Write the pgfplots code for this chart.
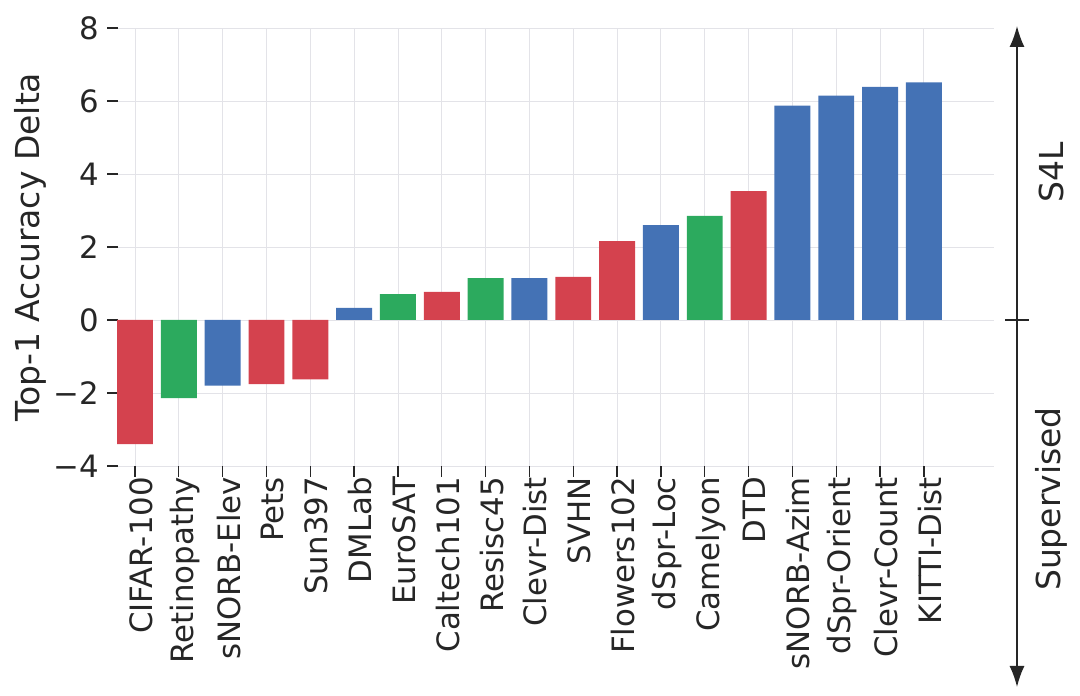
\documentclass[border=0pt]{standalone}
\usepackage{fontspec}
\setmainfont{DejaVu Sans}
\usepackage{pgfplots}
\pgfplotsset{compat=1.18}
\usetikzlibrary{arrows.meta}
\definecolor{cred}{HTML}{D4424E}
\definecolor{cgreen}{HTML}{2CAA5E}
\definecolor{cblue}{HTML}{4472B5}
\definecolor{cgrid}{HTML}{E3E3E8}
\definecolor{ctext}{HTML}{262626}
\begin{document}
\begin{tikzpicture}[x=1pt,y=1pt]
\useasboundingbox (0,0) rectangle (1080,696);
\begin{axis}[
  at={(118pt,230pt)}, anchor=south west,
  scale only axis, width=876pt, height=438pt,
  xmin=-0.388, xmax=19.6, ymin=-4, ymax=8,
  axis line style={draw=none},
  xtick={0,...,18},
  xticklabels={CIFAR-100,Retinopathy,sNORB-Elev,Pets,Sun397,DMLab,EuroSAT,Caltech101,Resisc45,Clevr-Dist,SVHN,Flowers102,dSpr-Loc,Camelyon,DTD,sNORB-Azim,dSpr-Orient,Clevr-Count,KITTI-Dist},
  ytick={-4,-2,0,2,4,6,8},
  yticklabels={−4,−2,0,2,4,6,8},
  xtick pos=bottom, ytick pos=left,
  tick align=outside, major tick length=11pt,
  tick style={ctext, line width=1.3pt},
  grid=major, grid style={cgrid, line width=0.9pt},
  xticklabel style={rotate=90, anchor=east, font=\fontsize{30.8}{33}\selectfont, color=ctext, inner sep=0pt, yshift=-6pt},
  yticklabel style={font=\fontsize{30.8}{33}\selectfont, color=ctext, inner sep=0pt, xshift=-8pt},
  ylabel={Top-1 Accuracy Delta},
  every axis y label/.style={at={(axis description cs:-0.1005,0.5)}, rotate=90, anchor=center, font=\fontsize{33}{36}\selectfont, color=ctext},
  clip=false,
]
\addplot[ybar, bar width=0.82, bar shift=0, fill=cred, draw=none] coordinates {
 (0,-3.40) (3,-1.76) (4,-1.63) (7,0.77) (10,1.18) (11,2.16) (14,3.53)};
\addplot[ybar, bar width=0.82, bar shift=0, fill=cgreen, draw=none] coordinates {
 (1,-2.14) (6,0.71) (8,1.15) (13,2.85)};
\addplot[ybar, bar width=0.82, bar shift=0, fill=cblue, draw=none] coordinates {
 (2,-1.80) (5,0.33) (9,1.15) (12,2.60) (15,5.87) (16,6.15) (17,6.39) (18,6.51)};
\end{axis}
\draw[{Latex[length=21pt,width=15pt]}-{Latex[length=21pt,width=15pt]}, line width=1.6pt, ctext] (1017,9) -- (1017,670);
\draw[line width=1.6pt, ctext] (1005,376) -- (1029,376);
\node[rotate=90, font=\fontsize{33}{36}\selectfont, color=ctext] at (1051,524) {S4L};
\node[rotate=90, font=\fontsize{33}{36}\selectfont, color=ctext] at (1051,197) {Supervised};
\end{tikzpicture}
\end{document}
